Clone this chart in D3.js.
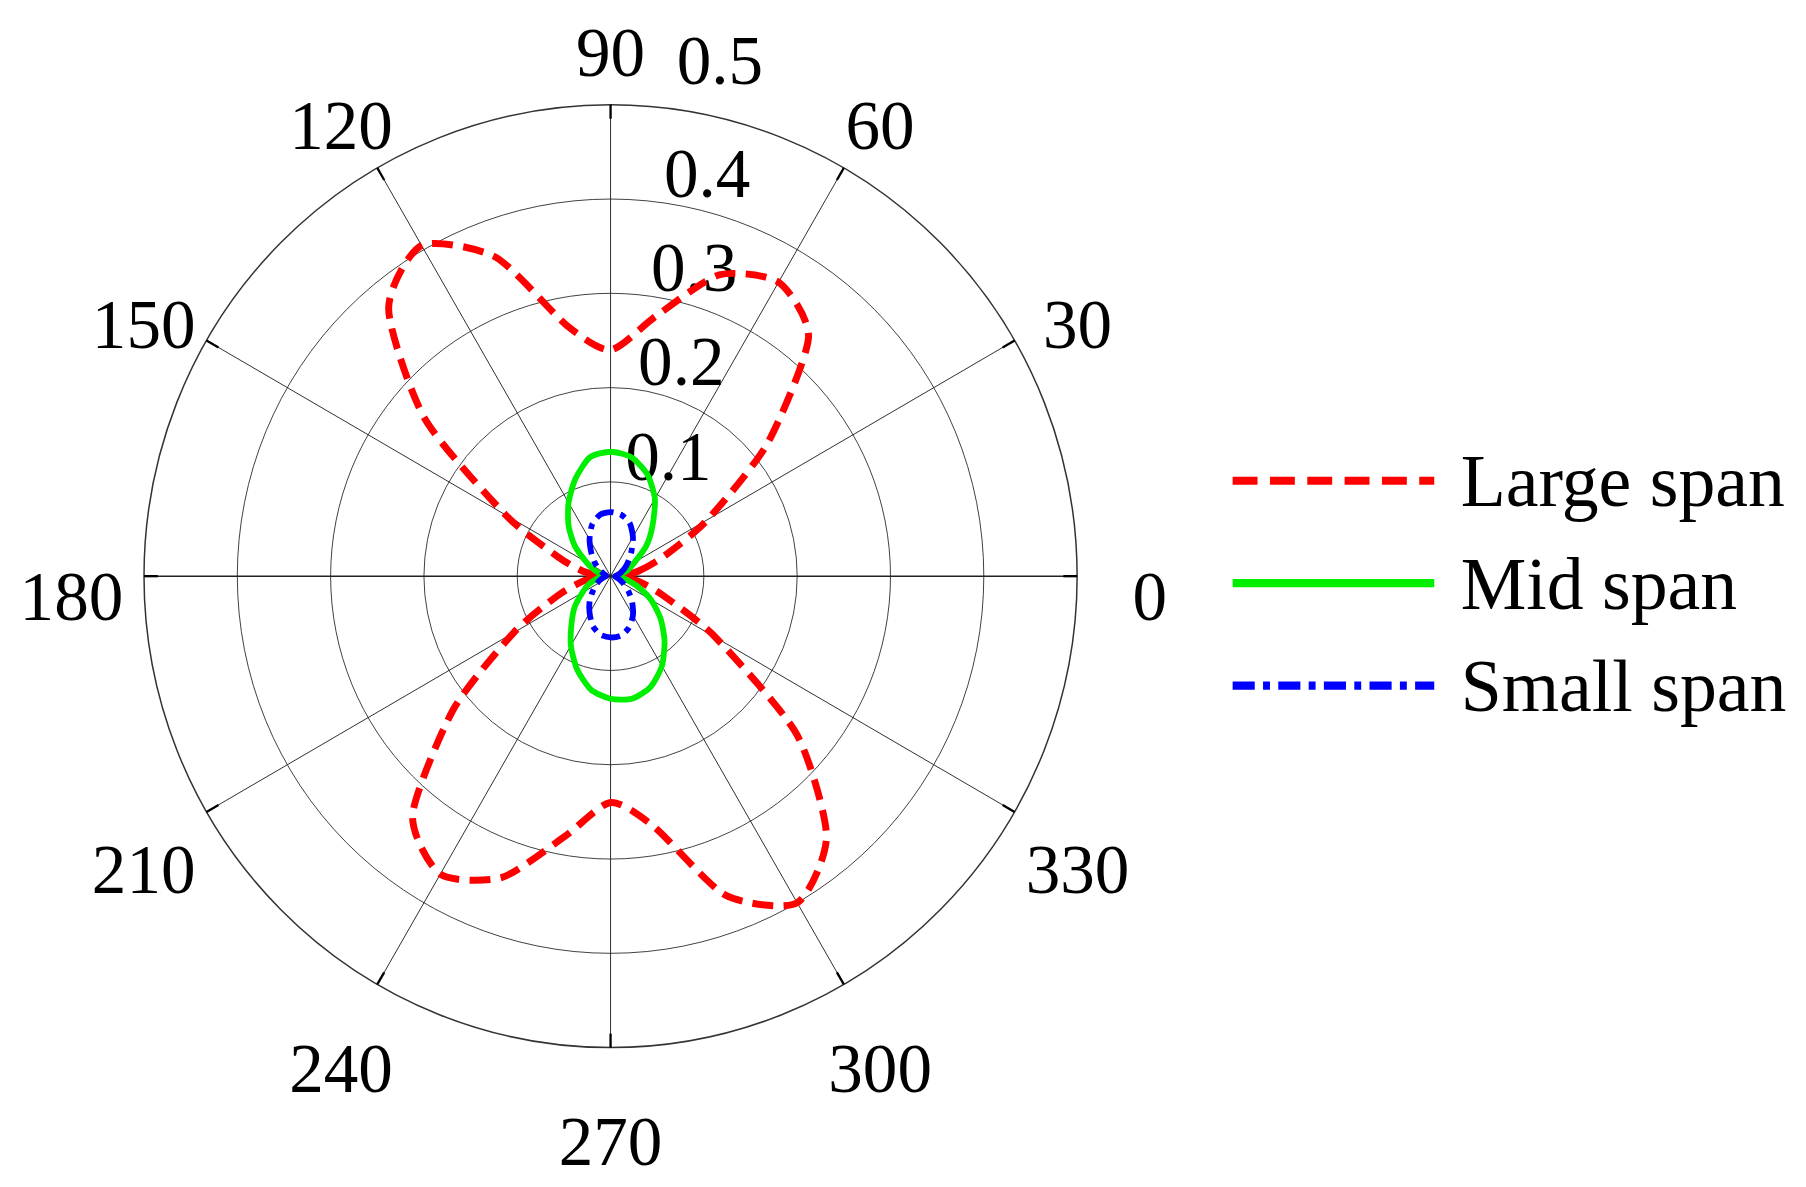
<!DOCTYPE html><html><head><meta charset="utf-8">
<script src="https://cdn.jsdelivr.net/npm/d3@7"></script>
<style>body{margin:0;background:#fff}text{font-family:"Liberation Serif","Times New Roman",serif}</style></head><body>
<svg id="c" width="1806" height="1187"></svg>
<script>
const angles = d3.range(0, 360, 10);
const largeSpan = [0.01,0.03,0.06,0.12,0.22,0.33,0.36,0.34,0.28,0.24,0.27,0.36,0.405,0.37,0.26,0.13,0.06,0.03,
                   0.01,0.03,0.06,0.12,0.22,0.33,0.365,0.34,0.28,0.24,0.27,0.36,0.40,0.36,0.26,0.13,0.06,0.03];
const midSpan = [0.01,0.012,0.02,0.03,0.05,0.07,0.095,0.115,0.128,0.132,0.128,0.11,0.09,0.07,0.05,0.03,0.018,0.01,
                 0.01,0.015,0.025,0.035,0.05,0.065,0.085,0.105,0.122,0.13,0.132,0.125,0.11,0.09,0.07,0.05,0.03,0.015];
const smallSpan = [0.005,0.008,0.012,0.018,0.025,0.035,0.048,0.06,0.066,0.068,0.066,0.058,0.045,0.032,0.022,0.014,0.008,0.005,
                   0.005,0.008,0.012,0.018,0.025,0.035,0.045,0.056,0.063,0.065,0.064,0.058,0.048,0.036,0.025,0.016,0.01,0.006];
const rTicks = [0.1,0.2,0.3,0.4,0.5];
const aTicks = d3.range(0,360,30);
const names = ["Large span","Mid span","Small span"];

const svg = d3.select("#c");
const root = svg.append("g").attr("transform","scale(1.152,1.164)");
const cx=530, cy=495;
const r = d3.scaleLinear().domain([0,0.5]).range([0,405]);
const g = root.append("g").attr("transform",`translate(${cx},${cy})`);
const rad = a => a*Math.PI/180;

g.selectAll("circle.ring").data(rTicks).join("circle").attr("r",d=>r(d))
 .attr("fill","none").attr("stroke","#333").attr("stroke-width",d=>d===0.5?1.3:0.8);
g.selectAll("line.spoke").data(aTicks).join("line")
 .attr("x1",0).attr("y1",0).attr("x2",d=>r(0.5)*Math.cos(rad(d))).attr("y2",d=>-r(0.5)*Math.sin(rad(d)))
 .attr("stroke","#222").attr("stroke-width",d=>d%180===0?1.2:0.8);
g.selectAll("line.tick").data(aTicks).join("line")
 .attr("x1",d=>r(0.5)*Math.cos(rad(d))).attr("y1",d=>-r(0.5)*Math.sin(rad(d)))
 .attr("x2",d=>(r(0.5)-12)*Math.cos(rad(d))).attr("y2",d=>-(r(0.5)-12)*Math.sin(rad(d)))
 .attr("stroke","#000").attr("stroke-width",2);

g.selectAll("text.al").data(aTicks).join("text")
 .attr("x",d=>468*Math.cos(rad(d))).attr("y",d=>-468*Math.sin(rad(d))+38)
 .attr("text-anchor","middle").attr("font-size",60).text(d=>d);
g.selectAll("text.rl").data(rTicks).join("text")
 .attr("x",d=>d===0.5?95:39+d*112).attr("y",d=>-r(d)+(d===0.5?-18:-2))
 .attr("text-anchor","middle").attr("font-size",60).text(d=>d);

const line = d3.lineRadial().angle(d=>rad(90-d[0])).radius(d=>r(d[1])).curve(d3.curveCardinalClosed.tension(0.3));
const series = [
 {v:largeSpan,c:"#ff0000",dash:"18,9",w:6},
 {v:midSpan,c:"#00ee00",dash:null,w:5},
 {v:smallSpan,c:"#0000ff",dash:"16,6,5,6",w:5}];
series.forEach(s=>{
 g.append("path").datum(angles.map((a,i)=>[a,s.v[i]])).attr("d",line)
  .attr("fill","none").attr("stroke",s.c).attr("stroke-width",s.w).attr("stroke-dasharray",s.dash);
});
const lg = root.append("g");
series.forEach((s,i)=>{
 const y=413+i*88;
 lg.append("line").attr("x1",1070).attr("x2",1245).attr("y1",y).attr("y2",y)
  .attr("stroke",s.c).attr("stroke-width",7).attr("stroke-dasharray",s.dash?s.dash.split(",").map(x=>x*1.2).join(","):null);
 lg.append("text").attr("x",1268).attr("y",y+22).attr("font-size",64).text(names[i]);
});
</script></body></html>
